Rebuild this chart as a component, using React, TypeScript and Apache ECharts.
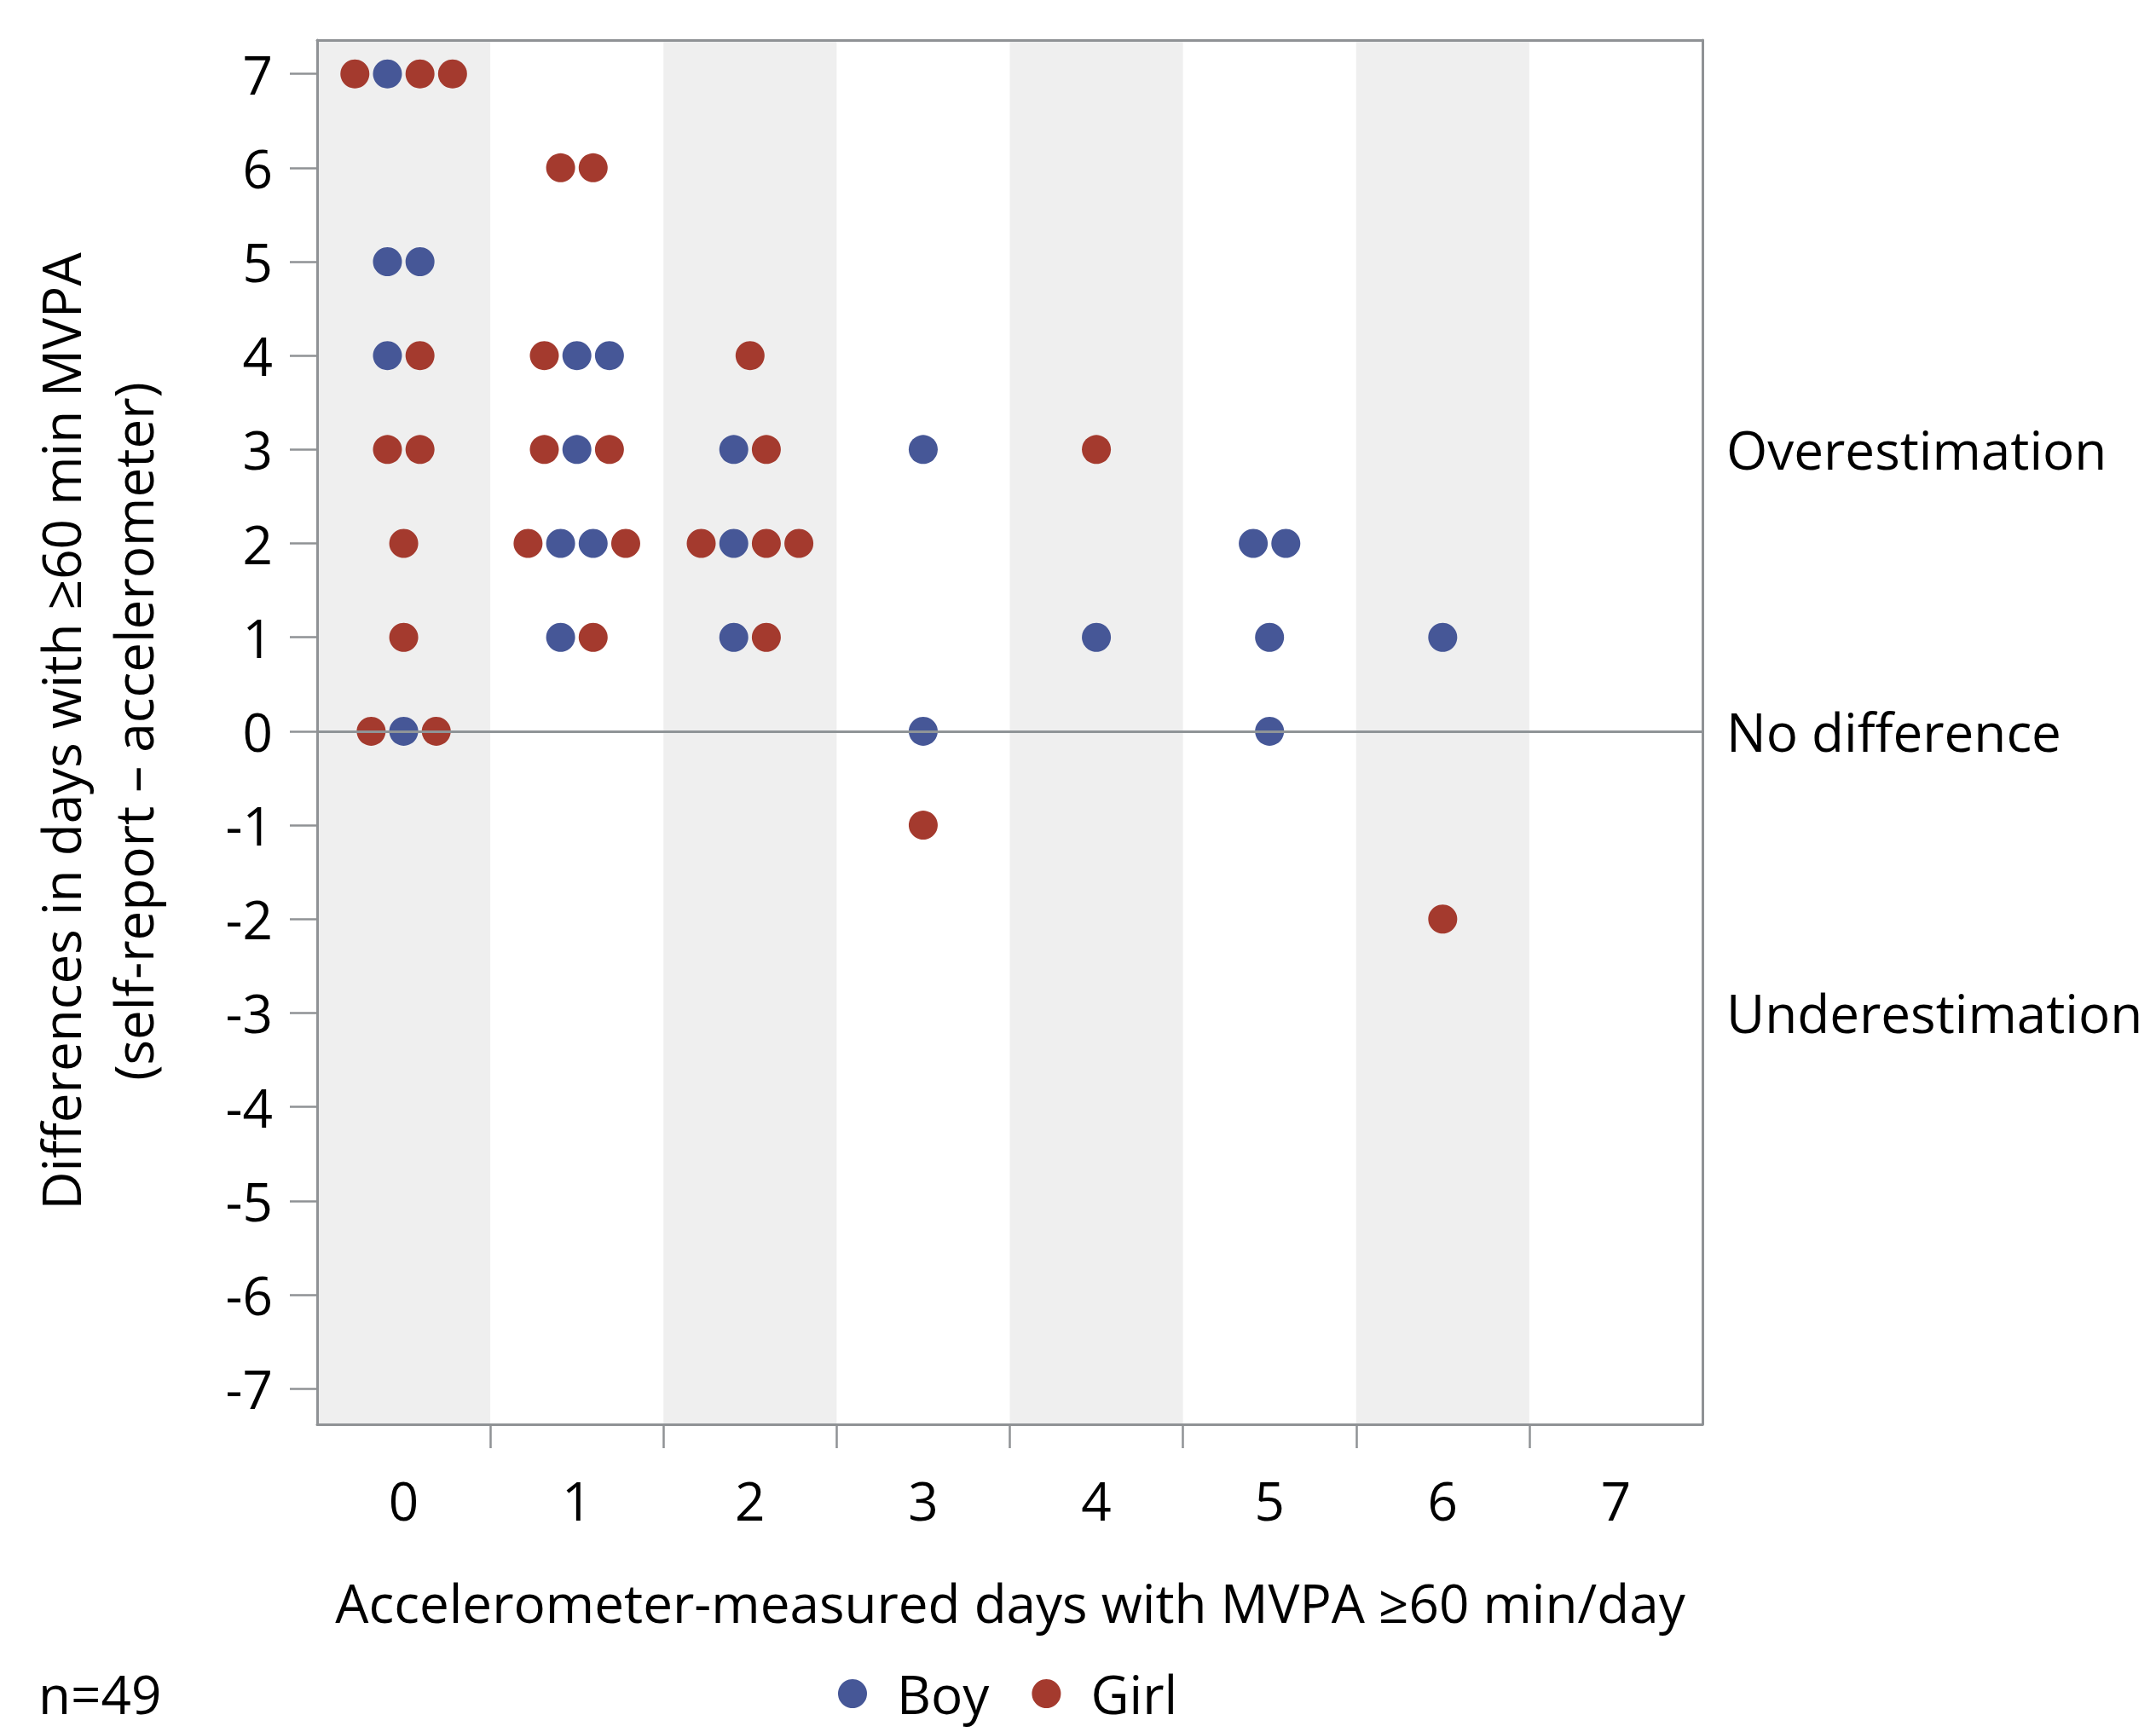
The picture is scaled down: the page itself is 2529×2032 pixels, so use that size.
import React, { useEffect, useRef } from "react";
import * as echarts from "echarts";

// ---------- data ----------
const categories = [0, 1, 2, 3, 4, 5, 6, 7];
const yTickValues = [-7, -6, -5, -4, -3, -2, -1, 0, 1, 2, 3, 4, 5, 6, 7];
// each group: accelerometer days, difference, genders left-to-right (B = Boy, G = Girl)
const groupX = [0, 0, 0, 0, 0, 0, 0, 1, 1, 1, 1, 1, 2, 2, 2, 2, 3, 3, 3, 4, 4, 5, 5, 5, 6, 6];
const groupY = [7, 5, 4, 3, 2, 1, 0, 6, 4, 3, 2, 1, 4, 3, 2, 1, 3, 0, -1, 3, 1, 2, 1, 0, 1, -2];
const groupOrder = [
  "GBGG", "BB", "BG", "GG", "G", "G", "GBG",
  "GG", "GBB", "GBG", "GBBG", "BG",
  "G", "BG", "GBGG", "BG",
  "B", "B", "G",
  "G", "B",
  "BB", "B", "B",
  "B", "G",
];
const zoneValues = [3, 0, -3];
const zoneLabels = ["Overestimation", "No difference", "Underestimation"];
const seriesNames = ["Boy", "Girl"];
const seriesCodes = ["B", "G"];
const seriesColors = ["#465797", "#A43A2E"];
const xTitle = "Accelerometer-measured days with MVPA \u226560 min/day";
const yTitleLines = ["Differences in days with \u226560 min MVPA", "(self-report \u2013 accelerometer)"];
const sampleNote = "n=49";

// ---------- layout constants ----------
const FONT = "'Open Sans', sans-serif";
const FS = 62;
const DOT_STEP = 0.188;
const AXIS_COLOR = "#8f9295";
const BAND_COLOR = "#efefef";
const GRID = { left: 372, top: 47, right: 2529 - 1997, bottom: 2032 - 1671 };

function buildSeriesData(code: string): number[][] {
  const out: number[][] = [];
  groupOrder.forEach((order, gi) => {
    const n = order.length;
    for (let i = 0; i < n; i++) {
      if (order[i] === code) {
        out.push([groupX[gi] + (i - (n - 1) / 2) * DOT_STEP, groupY[gi]]);
      }
    }
  });
  return out;
}

export default function App() {
  const ref = useRef<HTMLDivElement>(null);
  useEffect(() => {
    if (!ref.current) return;
    const chart = echarts.init(ref.current, null, { renderer: "svg" });
    const xMin = categories[0] - 0.5;
    const xMax = categories[categories.length - 1] + 0.5;
    const yMin = -7.38;
    const yMax = 7.36;
    const bandCats = categories.filter((c) => c % 2 === 0);
    const boundaries = categories.slice(0, -1).map((c) => c + 0.5);
    const labelStyle = { fontFamily: FONT, fontSize: FS, color: "#000" };

    const option: any = {
      animation: false,
      backgroundColor: "#fff",
      grid: { ...GRID, containLabel: false },
      xAxis: [
        {
          type: "value",
          min: xMin,
          max: xMax,
          position: "bottom",
          z: 10,
          axisLine: { show: true, onZero: false, lineStyle: { color: AXIS_COLOR, width: 3 } },
          axisTick: { show: true, inside: false, length: 28, customValues: boundaries, lineStyle: { color: AXIS_COLOR, width: 2.5 } },
          axisLabel: { ...labelStyle, margin: 58, customValues: categories, formatter: (v: number) => String(v) },
          splitLine: { show: false },
        },
        {
          type: "value",
          min: xMin,
          max: xMax,
          position: "top",
          z: 10,
          axisLine: { show: true, onZero: false, lineStyle: { color: AXIS_COLOR, width: 3 } },
          axisTick: { show: false },
          axisLabel: { show: false },
          splitLine: { show: false },
        },
      ],
      yAxis: [
        {
          type: "value",
          min: yMin,
          max: yMax,
          position: "left",
          z: 10,
          axisLine: { show: true, onZero: false, lineStyle: { color: AXIS_COLOR, width: 3 } },
          axisTick: { show: true, inside: false, length: 32, customValues: yTickValues, lineStyle: { color: AXIS_COLOR, width: 2.5 } },
          axisLabel: { ...labelStyle, margin: 52, customValues: yTickValues, formatter: (v: number) => String(v) },
          splitLine: { show: false },
        },
        {
          type: "value",
          min: yMin,
          max: yMax,
          position: "right",
          z: 10,
          axisLine: { show: true, onZero: false, lineStyle: { color: AXIS_COLOR, width: 3 } },
          axisTick: { show: false },
          axisLabel: {
            ...labelStyle,
            margin: 28,
            align: "left",
            customValues: zoneValues,
            formatter: (v: number) => zoneLabels[zoneValues.indexOf(Math.round(v))] ?? "",
          },
          splitLine: { show: false },
        },
      ],
      legend: {
        data: seriesNames,
        left: 983,
        top: 1956,
        padding: 0,
        orient: "horizontal",
        icon: "circle",
        itemWidth: 34,
        itemHeight: 34,
        itemGap: 50,
        textStyle: { ...labelStyle, lineHeight: 62, padding: [0, 0, 0, 30] },
      },
      series: [
        {
          type: "scatter",
          name: "bands",
          data: [],
          silent: true,
          z: 1,
          markArea: {
            silent: true,
            itemStyle: { color: BAND_COLOR },
            data: bandCats.map((c) => [{ xAxis: c - 0.5 }, { xAxis: c + 0.5 }]),
          },
          markLine: {
            silent: true,
            symbol: ["none", "none"],
            label: { show: false },
            lineStyle: { color: "#8f9497", width: 3, type: "solid" },
            data: [{ yAxis: 0 }],
          },
        },
        ...seriesNames.map((name, i) => ({
          type: "scatter",
          name,
          z: 3,
          symbol: "circle",
          symbolSize: 34,
          itemStyle: { color: seriesColors[i], opacity: 1 },
          data: buildSeriesData(seriesCodes[i]),
        })),
      ],
      graphic: [
        {
          type: "text",
          x: 113,
          y: 858,
          rotation: Math.PI / 2,
          style: {
            text: yTitleLines.join("\n"),
            font: `${FS}px ${FONT}`,
            fill: "#000",
            align: "center",
            verticalAlign: "middle",
            lineHeight: 85,
          },
        },
        {
          type: "text",
          x: 1185,
          y: 1880,
          style: { text: xTitle, font: `${FS}px ${FONT}`, fill: "#000", align: "center", verticalAlign: "middle" },
        },
        {
          type: "text",
          x: 45,
          y: 1987,
          style: { text: sampleNote, font: `${FS}px ${FONT}`, fill: "#000", align: "left", verticalAlign: "middle", lineHeight: 62 },
        },
      ],
    };
    chart.setOption(option);
    return () => chart.dispose();
  }, []);
  return (
    <div
      ref={ref}
      style={{ position: "fixed", left: 0, top: 0, width: 2529, height: 2032, background: "#fff" }}
    />
  );
}
